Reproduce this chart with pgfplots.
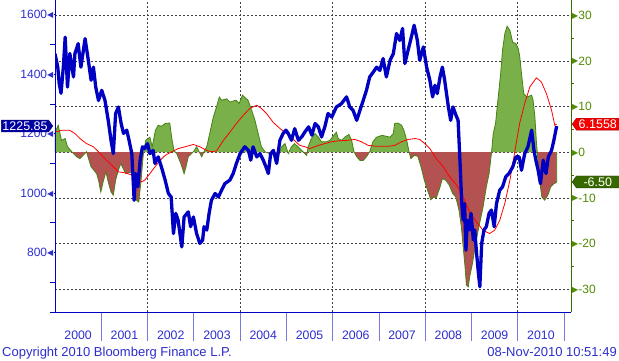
\documentclass[border=0pt]{standalone}
\usepackage{pgfplots}
\usepackage{pgfplotstable}
\pgfplotsset{compat=1.18}
\usepackage{fontspec}
\setmainfont{Liberation Sans}
\newfontfamily\symf{DejaVu Sans}
\usetikzlibrary{shapes.symbols}
\definecolor{spx}{RGB}{0,0,195}
\definecolor{lblue}{RGB}{45,45,205}
\definecolor{sepc}{RGB}{120,120,225}
\definecolor{gfill}{RGB}{122,176,74}
\definecolor{rfill}{RGB}{180,82,82}
\definecolor{gline}{RGB}{70,130,20}
\definecolor{gtext}{RGB}{80,140,0}
\definecolor{gaxis}{RGB}{55,110,0}
\definecolor{boxblue}{RGB}{0,0,165}
\definecolor{boxgreen}{RGB}{55,105,0}
\definecolor{boxred}{RGB}{245,0,0}

\newcommand{\ltri}{\raisebox{1.2pt}{\symf\fontsize{8}{8}\selectfont ◀}}
\newcommand{\rtri}{\raisebox{1.2pt}{\symf\fontsize{8}{8}\selectfont ▶}}

% S&P 500 (left axis)
\pgfplotstableread{
t v
2000.00 1469
2000.06 1424
2000.09 1370
2000.13 1336
2000.18 1424
2000.22 1525
2000.27 1357
2000.32 1470
2000.40 1391
2000.43 1469
2000.50 1503
2000.56 1424
2000.65 1520
2000.72 1447
2000.78 1380
2000.83 1424
2000.88 1357
2000.94 1312
2001.01 1346
2001.08 1312
2001.15 1245
2001.21 1178
2001.26 1133
2001.31 1268
2001.37 1290
2001.43 1234
2001.48 1201
2001.55 1212
2001.60 1178
2001.66 1133
2001.71 976
2001.74 1066
2001.79 1021
2001.84 1111
2001.89 1156
2001.94 1150
2002.00 1167
2002.05 1133
2002.12 1144
2002.16 1100
2002.23 1122
2002.30 1088
2002.38 1044
2002.45 999
2002.51 987
2002.56 864
2002.61 932
2002.66 909
2002.74 819
2002.79 920
2002.88 937
2002.93 887
2002.99 920
2003.06 864
2003.13 831
2003.19 842
2003.22 887
2003.28 876
2003.33 932
2003.38 976
2003.46 999
2003.53 987
2003.60 1010
2003.67 1032
2003.78 1044
2003.85 1066
2003.92 1100
2004.00 1133
2004.10 1156
2004.18 1144
2004.23 1111
2004.28 1156
2004.36 1122
2004.43 1133
2004.50 1111
2004.56 1088
2004.61 1066
2004.66 1133
2004.72 1144
2004.79 1100
2004.86 1178
2004.93 1201
2004.99 1212
2005.04 1201
2005.11 1178
2005.18 1217
2005.26 1178
2005.33 1189
2005.40 1206
2005.48 1223
2005.55 1195
2005.62 1234
2005.69 1223
2005.76 1189
2005.83 1223
2005.90 1268
2005.98 1256
2006.08 1290
2006.19 1301
2006.30 1324
2006.37 1290
2006.44 1279
2006.52 1245
2006.59 1279
2006.66 1312
2006.73 1346
2006.80 1391
2006.88 1408
2006.95 1424
2007.02 1413
2007.09 1453
2007.16 1391
2007.24 1447
2007.31 1469
2007.38 1537
2007.45 1514
2007.51 1554
2007.56 1436
2007.63 1481
2007.70 1525
2007.76 1565
2007.83 1514
2007.88 1447
2007.96 1492
2008.03 1424
2008.10 1380
2008.16 1324
2008.21 1363
2008.26 1335
2008.32 1391
2008.37 1424
2008.42 1380
2008.50 1290
2008.55 1245
2008.60 1290
2008.65 1268
2008.71 1245
2008.75 1111
2008.79 965
2008.82 909
2008.85 965
2008.88 808
2008.91 909
2008.95 876
2008.99 932
2009.04 842
2009.07 876
2009.11 797
2009.15 730
2009.18 685
2009.22 831
2009.27 876
2009.32 887
2009.38 932
2009.43 943
2009.49 887
2009.54 965
2009.61 1010
2009.67 1021
2009.74 1055
2009.81 1066
2009.89 1088
2009.96 1122
2010.03 1122
2010.08 1077
2010.15 1133
2010.22 1156
2010.30 1212
2010.35 1144
2010.39 1111
2010.44 1077
2010.49 1032
2010.55 1111
2010.61 1066
2010.66 1122
2010.73 1144
2010.78 1178
2010.84 1225.85
}\spx

% oscillator (right axis, filled)
\pgfplotstableread{
t r
2000.00 0
2000.00 4.4
2000.07 5.9
2000.14 2.6
2000.22 3.0
2000.27 1.2
2000.40 -0.3
2000.47 -1.0
2000.54 -1.4
2000.68 0.1
2000.78 -3.2
2000.90 -4.7
2000.94 -6.1
2000.99 -8.7
2001.04 -6.5
2001.10 -4.3
2001.15 -6.5
2001.21 -8.7
2001.26 -9.4
2001.31 -6.1
2001.37 -3.9
2001.42 -2.5
2001.53 -4.7
2001.66 -4.3
2001.71 -6.1
2001.76 -10.5
2001.81 -10.9
2001.86 -6.1
2001.91 -0.3
2001.96 2.6
2002.05 3.3
2002.10 1.2
2002.17 4.8
2002.23 5.9
2002.30 5.7
2002.38 6.3
2002.48 6.4
2002.52 3.3
2002.57 0.4
2002.63 -0.3
2002.72 -2.5
2002.79 -4.7
2002.83 -3.2
2002.88 -1.0
2002.99 0.1
2003.06 1.2
2003.17 -1.0
2003.22 0.1
2003.28 1.2
2003.35 4.4
2003.42 7.7
2003.49 9.9
2003.55 12.1
2003.60 11.4
2003.71 11.7
2003.78 11.0
2003.91 11.4
2003.98 10.7
2004.05 12.5
2004.17 11.4
2004.25 9.2
2004.32 7.0
2004.39 4.1
2004.46 1.2
2004.54 0.1
2004.64 -0.3
2004.82 -0.7
2004.90 1.2
2004.97 1.9
2005.04 -0.3
2005.11 1.2
2005.18 1.9
2005.36 0.1
2005.44 -0.7
2005.47 1.2
2005.54 3.0
2005.62 4.1
2005.69 3.3
2005.76 2.3
2005.87 2.3
2005.94 2.6
2006.08 4.4
2006.12 3.0
2006.19 2.6
2006.26 3.3
2006.35 3.9
2006.41 2.6
2006.46 0.1
2006.52 -1.0
2006.59 -1.8
2006.66 -1.8
2006.73 -1.0
2006.80 0.1
2006.87 2.3
2006.95 3.3
2007.07 3.7
2007.24 3.3
2007.31 4.1
2007.34 6.3
2007.41 6.4
2007.49 5.9
2007.54 4.8
2007.60 2.6
2007.65 0.1
2007.69 -1.4
2007.76 -0.7
2007.84 -0.9
2007.91 -3.2
2007.98 -6.1
2008.05 -8.3
2008.12 -10.4
2008.18 -9.8
2008.24 -10.0
2008.32 -7.6
2008.37 -5.8
2008.44 -6.1
2008.52 -7.2
2008.59 -9.0
2008.66 -9.8
2008.73 -12.7
2008.78 -16.3
2008.82 -20.7
2008.86 -25.1
2008.89 -29.1
2008.93 -29.5
2008.96 -27.3
2009.02 -24.4
2009.09 -20.0
2009.16 -16.3
2009.25 -12.0
2009.32 -7.6
2009.38 -4.7
2009.43 -0.3
2009.47 4.1
2009.52 6.3
2009.57 11.4
2009.63 17.2
2009.67 22.3
2009.72 26.0
2009.77 27.6
2009.83 26.7
2009.89 24.1
2009.96 23.8
2010.01 22.7
2010.04 21.2
2010.08 17.2
2010.13 12.8
2010.20 12.1
2010.30 12.5
2010.33 11.4
2010.37 7.7
2010.40 2.6
2010.44 -2.5
2010.47 -6.1
2010.52 -9.8
2010.58 -10.5
2010.65 -9.4
2010.71 -7.6
2010.78 -6.9
2010.82 -6.7
2010.84 -6.5
2010.84 0
}\osc

% smoothed line (right axis)
\pgfplotstableread{
t r
2000.00 4.4
2000.14 4.8
2000.32 4.8
2000.43 4.1
2000.54 3.0
2000.68 1.9
2000.83 1.2
2000.94 0.1
2001.04 -1.0
2001.15 -2.1
2001.30 -3.6
2001.37 -4.3
2001.51 -4.5
2001.66 -5.0
2001.76 -5.8
2001.87 -6.5
2001.94 -6.1
2002.05 -4.7
2002.16 -3.2
2002.27 -1.8
2002.38 -0.7
2002.52 0.1
2002.66 0.8
2002.81 1.2
2002.99 1.7
2003.13 1.2
2003.28 0.4
2003.38 0.1
2003.49 0.3
2003.64 2.6
2003.78 4.4
2003.92 6.3
2004.07 8.1
2004.21 9.6
2004.36 10.3
2004.46 9.6
2004.57 8.5
2004.71 6.6
2004.86 5.2
2005.00 4.1
2005.15 2.8
2005.29 1.5
2005.40 1.2
2005.51 0.8
2005.69 1.5
2005.83 1.9
2005.98 2.3
2006.12 2.5
2006.30 2.6
2006.48 2.8
2006.62 2.3
2006.77 1.5
2006.95 1.3
2007.20 1.3
2007.34 1.5
2007.49 2.3
2007.63 2.8
2007.78 3.0
2007.88 2.8
2007.99 1.9
2008.10 0.8
2008.24 -1.4
2008.39 -3.2
2008.53 -5.4
2008.68 -7.2
2008.82 -9.8
2008.96 -13.1
2009.11 -15.3
2009.25 -17.1
2009.39 -17.8
2009.50 -17.1
2009.61 -14.9
2009.72 -11.2
2009.83 -6.1
2009.94 0.4
2010.04 6.3
2010.15 10.7
2010.26 14.3
2010.40 16.3
2010.51 15.4
2010.62 12.8
2010.73 9.2
2010.80 5.9
2010.84 6.1558
}\ma

\begin{document}
\begin{tikzpicture}[x=1pt,y=1pt]
\useasboundingbox (-55,-48) rectangle (564,312);

% ---------- right axis: oscillator ----------
\begin{axis}[
  at={(0pt,0pt)}, anchor=south west,
  scale only axis, width=516pt, height=312pt,
  xmin=2000, xmax=2011.15, ymin=-35, ymax=33.35,
  axis y line*=right, axis x line*=bottom,
  x axis line style={draw=none},
  y axis line style={-, draw=gaxis, line width=0.9pt},
  xtick={2002,2004,2006,2008,2010}, xticklabels={},
  xtick style={draw=none},
  ytick={-30,-20,-10,0,10,20,30},
  yticklabels={\rtri-30,\rtri-20,\rtri-10,\rtri0,\rtri10,\rtri20,\rtri30},
  minor ytick={-25,-15,-5,5,15,25},
  ytick style={draw=gaxis, line width=0.8pt},
  tick align=outside, major tick length=1pt, minor tick length=3pt,
  xmajorgrids, ymajorgrids,
  major grid style={black!75, dash pattern=on 2pt off 2pt, line width=0.6pt},
  yticklabel style={text=gtext, font=\fontsize{12}{12}\selectfont, inner sep=0pt, anchor=west},
]
\begin{scope}
\clip (axis cs:1999,0) rectangle (axis cs:2012,40);
\addplot[fill=gfill, draw=none] table[x=t,y=r] {\osc} \closedcycle;
\end{scope}
\begin{scope}
\clip (axis cs:1999,-40) rectangle (axis cs:2012,0);
\addplot[fill=rfill, draw=none] table[x=t,y=r] {\osc} \closedcycle;
\end{scope}
\addplot[gline, line width=0.8pt] table[x=t,y=r, skip first n=1] {\osc};
\addplot[red, line width=0.8pt] table[x=t,y=r] {\ma};
\coordinate (rbox) at (axis cs:2011.15,6.1558);
\coordinate (gbox) at (axis cs:2011.15,-6.5);
\end{axis}

% ---------- separators ----------
\begin{axis}[
  at={(0pt,0pt)}, anchor=south west,
  scale only axis, width=516pt, height=312pt,
  xmin=2000, xmax=2011.15, ymin=0, ymax=1,
  axis x line*=bottom, axis y line=none,
  x axis line style={draw=none},
  xtick={2001,2002,2003,2004,2005,2006,2007,2008,2009,2010,2011}, xticklabels={},
  tick align=outside, major tick length=29pt,
  xtick style={draw=sepc, line width=0.8pt},
]
\end{axis}

% ---------- left axis: S&P 500 ----------
\begin{axis}[
  at={(0pt,0pt)}, anchor=south west,
  scale only axis, width=516pt, height=312pt,
  xmin=2000, xmax=2011.15, ymin=600, ymax=1650,
  axis y line*=left, axis x line*=bottom,
  axis line style={-, draw=spx, line width=1pt},
  xtick={2000.5,2001.5,2002.5,2003.5,2004.5,2005.5,2006.5,2007.5,2008.5,2009.5,2010.5},
  xticklabels={2000,2001,2002,2003,2004,2005,2006,2007,2008,2009,2010},
  xtick style={draw=none},
  xticklabel style={anchor=base, yshift=-26pt, text=lblue, font=\fontsize{12.3}{12.3}\selectfont},
  ytick={800,1000,1200,1400,1600},
  yticklabels={800\ltri,1000\ltri,1200\ltri,1400\ltri,1600\ltri},
  minor ytick={600,700,900,1100,1300,1500},
  ytick style={draw=spx, line width=0.8pt},
  tick align=outside, major tick length=1.5pt, minor tick length=5pt,
  yticklabel style={text=lblue, font=\fontsize{12}{12}\selectfont, inner sep=0pt, anchor=east},
]
\addplot[spx, line width=3.3pt, line join=round] table[x=t,y=v] {\spx};
\coordinate (bbox) at (axis cs:2000,1225.85);
\end{axis}

% ---------- value boxes ----------
\node[shape=signal, signal to=east, signal pointer angle=110, fill=boxblue, draw=boxblue!60!black,
  text=white, font=\fontsize{12.5}{12.5}\selectfont, inner xsep=1pt, inner ysep=1.5pt,
  anchor=east, xshift=-2pt] at (bbox) {1225.85};
\node[shape=signal, signal to=west, signal pointer angle=110, fill=boxred, draw=red!60!black,
  text=white, font=\fontsize{12.5}{12.5}\selectfont, inner xsep=1pt, inner ysep=1.5pt,
  minimum width=47pt, anchor=west, xshift=1pt] at (rbox) {6.1558};
\node[shape=signal, signal to=west, signal pointer angle=110, fill=boxgreen, draw=boxgreen!60!black,
  text=white, font=\fontsize{12.5}{12.5}\selectfont, inner xsep=1pt, inner ysep=1.5pt,
  minimum width=47pt, anchor=west, xshift=1pt] at (gbox) {-6.50};

% ---------- footer ----------
\node[anchor=base west, inner sep=0pt, text=lblue, font=\fontsize{13}{13}\selectfont] at (-53,-44.7) {Copyright 2010 Bloomberg Finance L.P.};
\node[anchor=base east, inner sep=0pt, text=lblue, font=\fontsize{13}{13}\selectfont] at (562,-44.7) {08-Nov-2010 10:51:49};
\end{tikzpicture}
\end{document}
